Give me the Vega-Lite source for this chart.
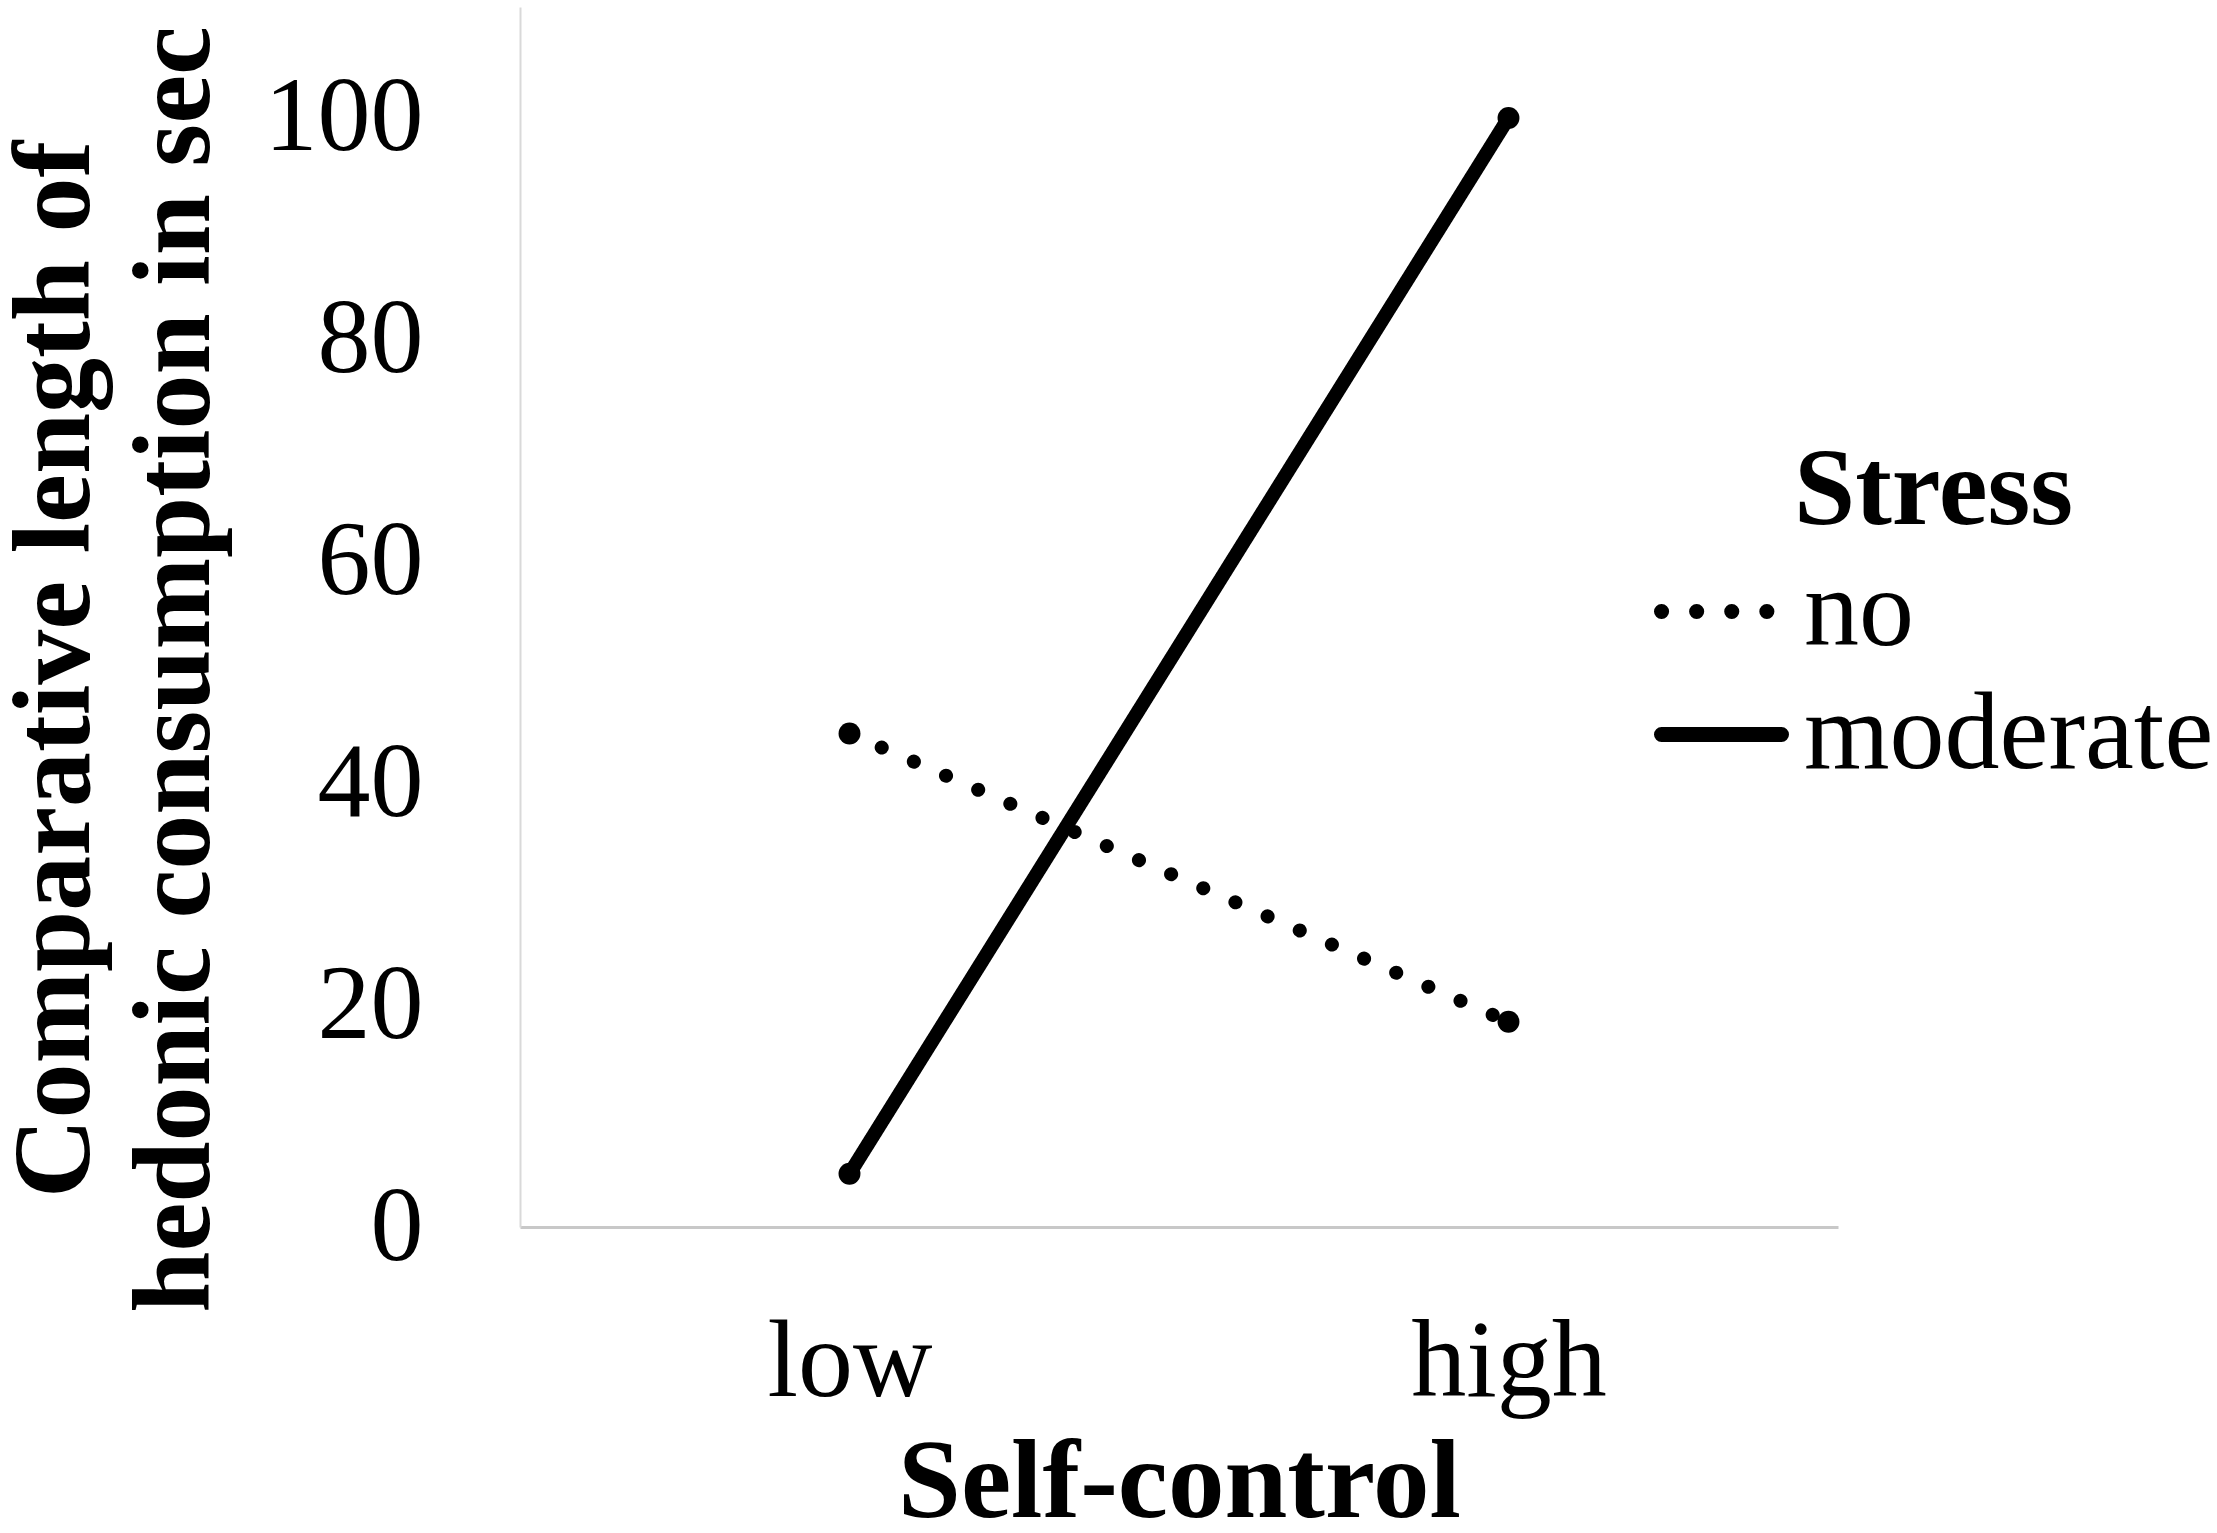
{
  "$schema": "https://vega.github.io/schema/vega-lite/v6.json",
  "description": "Comparative length of hedonic consumption by self-control and stress.",
  "width": 1318,
  "height": 1220,
  "autosize": {"type": "none"},
  "padding": {"left": 520, "top": 7, "right": 379, "bottom": 306},
  "background": "white",
  "config": {
    "view": {"stroke": null},
    "font": "Liberation Serif, Times New Roman, serif"
  },
  "data": {
    "values": [
      {"selfControl": "low", "stress": "no", "length": 44.5},
      {"selfControl": "high", "stress": "no", "length": 18.5},
      {"selfControl": "low", "stress": "moderate", "length": 4.8},
      {"selfControl": "high", "stress": "moderate", "length": 100}
    ]
  },
  "encoding": {
    "x": {
      "field": "selfControl",
      "type": "ordinal",
      "sort": ["low", "high"],
      "scale": {"type": "point", "padding": 0.5},
      "axis": {
        "title": "Self-control",
        "titleFont": "Liberation Serif, Times New Roman, serif",
        "titleFontSize": 113,
        "titleFontWeight": "bold",
        "titleColor": "black",
        "titleBaseline": "alphabetic",
        "titleY": 289,
        "labelAngle": 0,
        "labelFont": "Liberation Serif, Times New Roman, serif",
        "labelFontSize": 110,
        "labelColor": "black",
        "labelBaseline": "alphabetic",
        "labelPadding": 168,
        "labelLimit": 0,
        "ticks": false,
        "grid": false,
        "domainColor": "#c8c8c8",
        "domainWidth": 3
      }
    },
    "y": {
      "field": "length",
      "type": "quantitative",
      "scale": {"domain": [0, 110]},
      "axis": {
        "title": ["Comparative length of", "hedonic consumption in sec"],
        "titleFont": "Liberation Serif, Times New Roman, serif",
        "titleFontSize": 110,
        "titleFontWeight": "bold",
        "titleColor": "black",
        "titleLineHeight": 120,
        "titleAlign": "center",
        "titleBaseline": "alphabetic",
        "titleX": -432,
        "titleY": 662,
        "titleLimit": 0,
        "values": [0, 20, 40, 60, 80, 100],
        "labelFont": "Liberation Serif, Times New Roman, serif",
        "labelFontSize": 106,
        "labelColor": "black",
        "labelPadding": 97,
        "ticks": false,
        "grid": false,
        "domainColor": "#d9d9d9",
        "domainWidth": 2
      }
    }
  },
  "layer": [
    {
      "mark": {"type": "line", "color": "black", "strokeCap": "round", "strokeWidth": 14},
      "encoding": {
        "strokeDash": {
          "field": "stress",
          "type": "nominal",
          "scale": {"domain": ["no", "moderate"], "range": [[0.1, 35], [1, 0]]},
          "legend": {
            "title": "Stress",
            "orient": "none",
            "legendX": 1134,
            "legendY": 430,
            "titleFont": "Liberation Serif, Times New Roman, serif",
            "titleFontSize": 110,
            "titleFontWeight": "bold",
            "titleColor": "black",
            "titlePadding": -3,
            "titleLimit": 0,
            "labelFont": "Liberation Serif, Times New Roman, serif",
            "labelFontSize": 110,
            "labelColor": "black",
            "labelLimit": 0,
            "labelOffset": 15,
            "rowPadding": 0,
            "symbolType": "stroke",
            "symbolSize": 14400,
            "symbolStrokeWidth": 14,
            "symbolStrokeColor": "black",
            "encoding": {
              "symbols": {"strokeCap": {"value": "round"}, "strokeWidth": {"value": 15}},
              "title": {"dx": {"value": 140}}
            }
          }
        }
      }
    },
    {
      "mark": {"type": "point", "filled": true, "color": "black", "opacity": 1, "size": 480}
    }
  ]
}
